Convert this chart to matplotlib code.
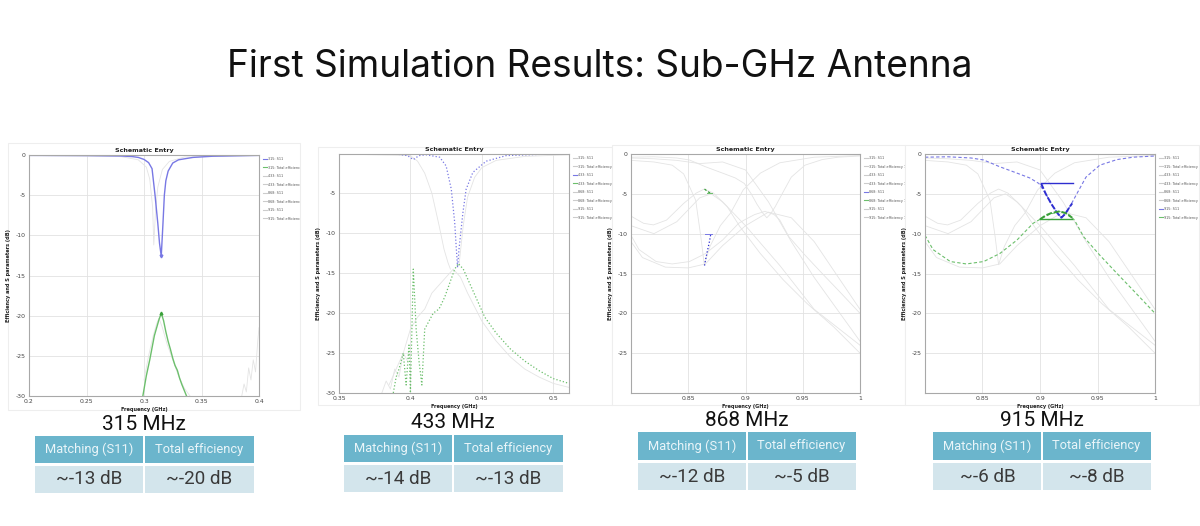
import numpy as np
import matplotlib
matplotlib.use('Agg')
import matplotlib.pyplot as plt
from matplotlib.patches import Rectangle
from matplotlib.lines import Line2D
from matplotlib.ticker import FormatStrFormatter
from matplotlib.transforms import Bbox, TransformedBbox

W, H = 1200, 526

# ---------------- data ----------------
bands = ['315 MHz', '433 MHz', '868 MHz', '915 MHz']
matching = ['~-13 dB', '~-14 dB', '~-12 dB', '~-6 dB']
efficiency = ['~-20 dB', '~-13 dB', '~-5 dB', '~-8 dB']
col_heads = ['Matching (S11)', 'Total efficiency']
legend_labels = ['315: S11', '315: Total efficiency 1', '433: S11', '433: Total efficiency 1',
                 '868: S11', '868: Total efficiency 1', '915: S11', '915: Total efficiency 1']

# 315 MHz panel
f315_s11 = [0.20, 0.25, 0.28, 0.290, 0.295, 0.300, 0.304, 0.307, 0.3096, 0.312, 0.3135, 0.315,
            0.3165, 0.3177, 0.319, 0.321, 0.325, 0.330, 0.3426, 0.36, 0.40]
s315_s11 = [-0.05, -0.07, -0.12, -0.2, -0.3, -0.55, -0.95, -1.7, -5.0, -8.5, -11.0, -12.6,
            -8.5, -5.0, -3.2, -2.0, -1.0, -0.6, -0.3, -0.15, -0.05]
f315_eff = [0.299, 0.302, 0.305, 0.307, 0.309, 0.311, 0.313, 0.315, 0.317, 0.319, 0.321, 0.323,
            0.325, 0.327, 0.329, 0.331, 0.333, 0.335, 0.337]
s315_eff = [-30, -27.5, -25.5, -24, -22.5, -21.5, -20.5, -19.7, -20.6, -22, -23.2, -24.2,
            -25.3, -26.2, -26.8, -27.8, -28.6, -29.3, -30]
f315_g1 = [0.20, 0.28, 0.295, 0.302, 0.305, 0.3075, 0.3085, 0.310, 0.312, 0.316, 0.322, 0.335, 0.40]
s315_g1 = [-0.05, -0.2, -0.6, -1.5, -3.0, -6.5, -11.2, -7.0, -4.0, -1.8, -0.8, -0.25, -0.05]
f315_g2 = [0.300, 0.304, 0.308, 0.311, 0.313, 0.316, 0.320, 0.325, 0.330, 0.335, 0.340]
s315_g2 = [-28, -25, -22.5, -21, -20.3, -21.5, -23.5, -25.5, -27.5, -29, -30]
f315_g3 = [0.385, 0.387, 0.389, 0.391, 0.393, 0.395, 0.397, 0.399, 0.400]
s315_g3 = [-30, -28.5, -29.5, -26.5, -28, -25.5, -27, -23, -21.5]

# 433 MHz panel
f433_s11 = [0.35, 0.39, 0.398, 0.402, 0.406, 0.411, 0.4205, 0.425, 0.4286, 0.431, 0.432, 0.433,
            0.434, 0.4355, 0.4367, 0.439, 0.4437, 0.453, 0.467, 0.49, 0.511]
s433_s11 = [-0.05, -0.1, -0.3, -0.8, -0.3, -0.2, -0.5, -1.6, -4.5, -8.7, -11.6, -14.3,
            -12.0, -9.5, -7.5, -4.5, -2.4, -1.0, -0.3, -0.15, -0.1]
f433_eff = [0.388, 0.390, 0.392, 0.395, 0.397, 0.399, 0.400, 0.402, 0.404, 0.406, 0.408, 0.410,
            0.413, 0.416, 0.420, 0.424, 0.428, 0.431, 0.4335, 0.437, 0.442, 0.447, 0.452, 0.46,
            0.47, 0.48, 0.49, 0.50, 0.511]
s433_eff = [-30, -28, -27, -25, -29, -24, -30, -14.5, -22, -26, -29, -22,
            -21, -20, -19.5, -18, -16, -14.5, -13.8, -14.5, -16.5, -18.5, -20.5, -22.5,
            -24.5, -26, -27.2, -28.2, -28.8]
f433_g1 = [0.35, 0.40, 0.405, 0.41, 0.415, 0.42, 0.4235, 0.4263, 0.428]
s433_g1 = [-0.1, -0.3, -1.0, -2.5, -5.0, -9.0, -12.0, -13.7, -14.5]
f433_g2 = [0.385, 0.39, 0.395, 0.40, 0.405, 0.41, 0.415, 0.42, 0.425, 0.43, 0.435, 0.44,
           0.45, 0.46, 0.47, 0.48, 0.49, 0.50, 0.511]
s433_g2 = [-29, -27, -25, -22, -20.5, -19.5, -17.5, -16.5, -15.5, -14.5, -15.5, -17.5,
           -21, -23.5, -25.5, -27, -28, -28.8, -29.3]
f433_g3 = [0.380, 0.383, 0.386, 0.389, 0.392, 0.395, 0.398]
s433_g3 = [-30, -28.5, -29.5, -27, -28, -25, -26]
f433_g4 = [0.434, 0.437, 0.44, 0.445, 0.45, 0.46, 0.48, 0.511]
s433_g4 = [-14, -9, -5.5, -3, -1.8, -0.9, -0.4, -0.2]

# broad 0.8-1.0 GHz sweeps (shown in the 868 and 915 panels)
fb_868_s11 = [0.80, 0.82, 0.836, 0.846, 0.8565, 0.861, 0.864, 0.867, 0.869, 0.878, 0.887, 0.898,
              0.913, 0.93, 0.96, 1.0]
sb_868_s11 = [-0.8, -1.0, -1.4, -2.5, -5.8, -10.4, -13.9, -12.5, -11.6, -9.0, -7.4, -4.5,
              -2.4, -1.1, -0.4, -0.2]
fb_868_eff = [0.80, 0.811, 0.8196, 0.831, 0.846, 0.857, 0.864, 0.872, 0.884, 0.895, 0.913, 0.933,
              0.954, 0.977, 1.0]
sb_868_eff = [-7.8, -8.7, -8.9, -8.3, -6.2, -4.9, -4.4, -4.9, -6.6, -9.1, -12.5, -15.8,
              -18.8, -21.7, -25.0]
fb_g1 = [0.80, 0.82, 0.84, 0.86, 0.87, 0.88, 0.90, 0.93, 0.96, 1.0]
sb_g1 = [-9.0, -10.0, -8.5, -5.5, -5.0, -6.0, -9.0, -14.0, -19.5, -24.0]
fb_g2 = [0.80, 0.82, 0.84, 0.86, 0.88, 0.90, 0.92, 0.94, 0.96, 0.98, 1.0]
sb_g2 = [-0.5, -0.6, -0.8, -1.2, -1.0, -2.0, -6.0, -11.0, -15.5, -19.5, -23.5]
fb_g3 = [0.80, 0.81, 0.83, 0.85, 0.865, 0.88, 0.90, 0.92, 0.94, 0.96, 1.0]
sb_g3 = [-11.0, -13.0, -14.2, -14.3, -13.8, -11.5, -9.0, -7.3, -8.0, -11.0, -19.5]
fb_915_s11 = [0.80, 0.82, 0.84, 0.851, 0.865, 0.88, 0.891, 0.899, 0.905, 0.91, 0.915, 0.9186,
              0.922, 0.926, 0.932, 0.94, 0.952, 0.967, 0.981, 1.0]
sb_915_s11 = [-0.4, -0.35, -0.5, -0.75, -1.6, -2.4, -3.0, -3.7, -5.0, -6.3, -7.4, -8.0,
              -7.5, -6.6, -5.0, -2.9, -1.4, -0.7, -0.4, -0.25]
fb_915_eff = [0.80, 0.807, 0.822, 0.836, 0.851, 0.865, 0.88, 0.894, 0.90, 0.908, 0.917, 0.925,
              0.93, 0.938, 0.952, 0.967, 0.981, 1.0]
sb_915_eff = [-10.2, -12.0, -13.5, -13.8, -13.5, -12.5, -10.8, -8.7, -8.2, -7.6, -7.2, -7.6,
              -8.3, -10.4, -12.7, -15.0, -17.1, -20.0]

# narrow sweeps highlighted in the 868 / 915 panels
f868_s11 = [0.8642, 0.8655, 0.867, 0.8685, 0.8698]
s868_s11 = [-14.0, -13.0, -12.0, -11.0, -9.95]
f868_eff = [0.8642, 0.866, 0.868, 0.8698]
s868_eff = [-4.4, -4.6, -4.8, -4.95]
f915_s11 = [0.901, 0.905, 0.91, 0.915, 0.9186, 0.922, 0.926, 0.928]
s915_s11 = [-3.7, -5.0, -6.3, -7.4, -8.0, -7.5, -6.6, -6.2]
f915_eff = [0.900, 0.905, 0.910, 0.917, 0.922, 0.928]
s915_eff = [-8.2, -7.7, -7.4, -7.2, -7.4, -8.0]

# marker lines drawn by the simulator
mk868_s11_f, mk868_s11_v = [0.8645, 0.8705], [-10.0, -10.0]
mk868_eff_f, mk868_eff_v = [0.866, 0.871], [-4.9, -4.9]
mk915_s11_f, mk915_s11_v = [0.901, 0.929], [-3.7, -3.7]
mk915_eff_f, mk915_eff_v = [0.900, 0.928], [-8.2, -8.2]

# ---------------- styling ----------------
BLUE = '#7878e4'
BLUE_D = '#2e2ed0'
GREEN = '#6cbf6c'
GREEN_D = '#3aa03a'
GREY = '#e4e4e4'
TEAL = '#6bb5cc'
PALE = '#d3e5ec'
SLIDE_FONT = ['Roboto', 'DejaVu Sans']

plt.rcParams['font.family'] = ['DejaVu Sans']
fig = plt.figure(figsize=(12, 5.26), dpi=100)
fig.patch.set_facecolor('white')


def fbox(l, t, r, b):
    return [l / W, 1 - b / H, (r - l) / W, (b - t) / H]


def rect(l, t, r, b, fc, ec='none', z=1):
    fig.add_artist(Rectangle((l / W, 1 - b / H), (r - l) / W, (b - t) / H,
                             transform=fig.transFigure, facecolor=fc, edgecolor=ec, lw=0.8,
                             zorder=z))


# screenshot backgrounds
shots = [(8, 143, 300, 410), (318, 147, 612, 405), (612, 145, 905, 405), (905, 145, 1199, 405)]
for l, t, r, b in shots:
    rect(l, t, r, b, 'white', '#eeeeee', z=-5)

axes_px = [(29, 155, 259, 396), (339, 154, 569, 393), (631, 154, 860, 393), (925, 154, 1155, 393)]


def setup(ax, xlim, ylim, xt, yt):
    ax.set_xlim(*xlim)
    ax.set_ylim(*ylim)
    ax.set_xticks(xt)
    ax.set_yticks(yt)
    ax.xaxis.set_major_formatter(FormatStrFormatter('%g'))
    ax.yaxis.set_major_formatter(FormatStrFormatter('%g'))
    ax.tick_params(length=0, labelsize=4.4, colors='#444444', pad=2.5)
    ax.grid(True, color='#e2e2e2', lw=0.6)
    ax.set_axisbelow(True)
    for s in ax.spines.values():
        s.set_color('#a8a8a8')
        s.set_linewidth(0.8)
    ax.set_title('Schematic Entry', fontsize=4.6, fontweight='bold', pad=2.5, color='#222222')
    ax.set_xlabel('Frequency (GHz)', fontsize=3.6, fontweight='bold', labelpad=2, color='#222222')
    ax.set_ylabel('Efficiency and S parameters (dB)', fontsize=3.6, fontweight='bold', labelpad=3,
                  color='#222222')


def legend(ax, active, shot):
    handles = []
    for i, lab in enumerate(legend_labels):
        if i == active:
            c = BLUE
        elif i == active + 1:
            c = GREEN
        else:
            c = '#cccccc'
        handles.append(Line2D([], [], color=c, lw=0.8))
    lg = ax.legend(handles, legend_labels, loc='upper left', bbox_to_anchor=(1.01, 1.0),
                   fontsize=2.4, frameon=False, handlelength=1.0, handletextpad=0.5,
                   labelspacing=1.35, borderaxespad=0.2)
    l, t, r, b = shot
    clip = TransformedBbox(Bbox.from_extents(l / W, 1 - b / H, r / W, 1 - t / H), fig.transFigure)
    for t_ in lg.get_texts():
        t_.set_color('#555555')
        t_.set_clip_box(clip)
        t_.set_clip_on(True)


# panel 1 : 315 MHz
ax1 = fig.add_axes(fbox(*axes_px[0]))
setup(ax1, (0.2, 0.4), (-30, 0), [0.2, 0.25, 0.3, 0.35, 0.4], [0, -5, -10, -15, -20, -25, -30])
ax1.plot(f315_g1, s315_g1, color=GREY, lw=0.6)
ax1.plot(f315_g2, s315_g2, color=GREY, lw=0.6)
ax1.plot(f315_g3, s315_g3, color=GREY, lw=0.6)
ax1.plot(f315_s11, s315_s11, color=BLUE, lw=1.0)
ax1.plot(f315_eff, s315_eff, color=GREEN, lw=1.0)
i = int(np.argmin(s315_s11))
ax1.plot(f315_s11[i], s315_s11[i], marker='v', ms=2, color=BLUE)
j = int(np.argmax(s315_eff))
ax1.plot(f315_eff[j], s315_eff[j], marker='^', ms=2, color=GREEN_D)
legend(ax1, 0, shots[0])

# panel 2 : 433 MHz
ax2 = fig.add_axes(fbox(*axes_px[1]))
setup(ax2, (0.35, 0.511), (-30, -0.1), [0.35, 0.4, 0.45, 0.5], [-5, -10, -15, -20, -25, -30])
ax2.plot(f433_g1, s433_g1, color=GREY, lw=0.6)
ax2.plot(f433_g2, s433_g2, color=GREY, lw=0.6)
ax2.plot(f433_g3, s433_g3, color=GREY, lw=0.6)
ax2.plot(f433_g4, s433_g4, color=GREY, lw=0.6)
ax2.plot(f433_s11, s433_s11, color=BLUE, lw=0.9, ls=':')
ax2.plot(f433_eff, s433_eff, color=GREEN, lw=0.9, ls=':')
legend(ax2, 2, shots[1])

# panels 3 and 4 share the broad sweeps
for k, axp in enumerate(axes_px[2:]):
    ax = fig.add_axes(fbox(*axp))
    setup(ax, (0.8, 1.0), (-30, 0), [0.8, 0.85, 0.9, 0.95, 1.0], [0, -5, -10, -15, -20, -25, -30])
    ax.set_xticklabels(['', '0.85', '0.9', '0.95', '1'])
    ax.set_yticklabels(['0', '-5', '-10', '-15', '-20', '-25', ''])
    for fx, sy in [(fb_868_s11, sb_868_s11), (fb_868_eff, sb_868_eff), (fb_g1, sb_g1),
                   (fb_g2, sb_g2), (fb_g3, sb_g3)]:
        ax.plot(fx, sy, color=GREY, lw=0.6)
    if k == 0:
        ax.plot(fb_915_s11, sb_915_s11, color=GREY, lw=0.6)
        ax.plot(fb_915_eff, sb_915_eff, color=GREY, lw=0.6)
        ax.plot(f868_s11, s868_s11, color=BLUE_D, lw=0.9, ls=':')
        ax.plot(mk868_s11_f, mk868_s11_v, color=BLUE, lw=0.7)
        ax.plot(f868_eff, s868_eff, color=GREEN_D, lw=0.9, ls='--', dashes=(2, 1.5))
        ax.plot(mk868_eff_f, mk868_eff_v, color=GREEN, lw=0.7)
        legend(ax, 4, shots[2])
    else:
        ax.plot(fb_915_s11, sb_915_s11, color=BLUE, lw=0.8, ls='--', dashes=(3, 2))
        ax.plot(fb_915_eff, sb_915_eff, color=GREEN, lw=0.8, ls='--', dashes=(3, 2))
        ax.plot(f915_s11, s915_s11, color=BLUE_D, lw=1.4, ls='--', dashes=(3, 1))
        ax.plot(mk915_s11_f, mk915_s11_v, color=BLUE_D, lw=1.0)
        ax.plot(f915_eff, s915_eff, color=GREEN_D, lw=1.4, ls='--', dashes=(3, 1))
        ax.plot(mk915_eff_f, mk915_eff_v, color=GREEN_D, lw=1.0)
        legend(ax, 6, shots[3])

# ---------------- slide text and tables ----------------
fig.text(600 / W, 1 - 67 / H, 'First Simulation Results: Sub-GHz Antenna', ha='center', va='center',
         fontsize=26.7, family=['Inter', 'DejaVu Sans'], color='#111111')

tables = [(35, 436, 254, 463, 466, 493, 144, 425),
          (344, 435, 563, 462, 465, 492, 453, 422),
          (638, 432, 856, 460, 463, 490, 747, 421),
          (933, 432, 1151, 460, 463, 490, 1042, 421)]
for n, (l, t, r, hb, vt, vb, d, ly) in enumerate(tables):
    fig.text(d / W, 1 - ly / H, bands[n], ha='center', va='center', fontsize=15,
             family=SLIDE_FONT, color='#111111')
    rect(l, t, d - 1, hb, TEAL)
    rect(d + 1, t, r, hb, TEAL)
    rect(l, vt, d - 1, vb, PALE)
    rect(d + 1, vt, r, vb, PALE)
    fig.text((l + d) / 2 / W, 1 - (t + hb) / 2 / H, col_heads[0], ha='center', va='center',
             fontsize=9.3, family=SLIDE_FONT, color='#eaf5f9')
    fig.text((d + r) / 2 / W, 1 - (t + hb) / 2 / H, col_heads[1], ha='center', va='center',
             fontsize=9.3, family=SLIDE_FONT, color='#eaf5f9')
    fig.text((l + d) / 2 / W, 1 - (vt + vb) / 2 / H, matching[n], ha='center', va='center',
             fontsize=13.6, family=SLIDE_FONT, color='#3a3a3a')
    fig.text((d + r) / 2 / W, 1 - (vt + vb) / 2 / H, efficiency[n], ha='center', va='center',
             fontsize=13.6, family=SLIDE_FONT, color='#3a3a3a')

fig.savefig('out.png', dpi=100, facecolor='white')
